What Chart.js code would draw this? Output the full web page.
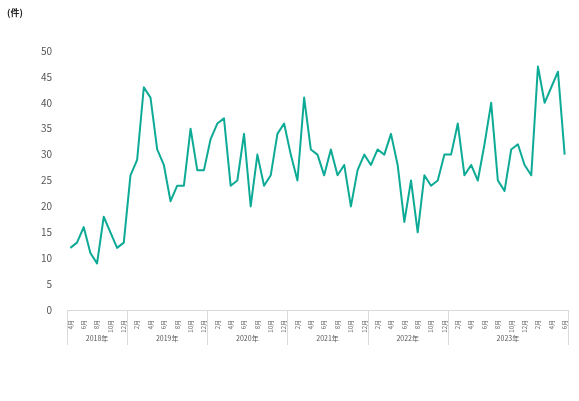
<!DOCTYPE html>
<html>
<head>
<meta charset="utf-8">
<script src="https://cdn.jsdelivr.net/npm/chart.js@4"></script>
<style>
  body { margin: 0; background: #fff; }
  #wrap { width: 579px; height: 401px; }
</style>
</head>
<body>
<div id="wrap"><canvas id="graph" width="579" height="401"></canvas></div>
<script>
//month labels, Apr 2018 - Jun 2024
var months = [
    '4月','5月','6月','7月','8月','9月','10月','11月','12月',
    '1月','2月','3月','4月','5月','6月','7月','8月','9月','10月','11月','12月',
    '1月','2月','3月','4月','5月','6月','7月','8月','9月','10月','11月','12月',
    '1月','2月','3月','4月','5月','6月','7月','8月','9月','10月','11月','12月',
    '1月','2月','3月','4月','5月','6月','7月','8月','9月','10月','11月','12月',
    '1月','2月','3月','4月','5月','6月','7月','8月','9月','10月','11月','12月',
    '1月','2月','3月','4月','5月','6月'
];

//counts per month (件)
var counts = [
    12, 13, 16, 11, 9, 18, 15, 12, 13,
    26, 29, 43, 41, 31, 28, 21, 24, 24, 35, 27, 27,
    33, 36, 37, 24, 25, 34, 20, 30, 24, 26, 34, 36,
    30, 25, 41, 31, 30, 26, 31, 26, 28, 20, 27, 30,
    28, 31, 30, 34, 28, 17, 25, 15, 26, 24, 25, 30,
    30, 36, 26, 28, 25, 32, 40, 25, 23, 31, 32, 28,
    26, 47, 40, 43, 46, 30
];

//year groups: label, first index, last index
var year_groups = [
    ['2018年', 0, 8],
    ['2019年', 9, 20],
    ['2020年', 21, 32],
    ['2021年', 33, 44],
    ['2022年', 45, 56],
    ['2023年', 57, 74]
];

var y_ticks = [0, 5, 10, 15, 20, 25, 30, 35, 40, 45, 50];

var font_family = "'Liberation Sans Narrow', 'Noto Sans CJK JP', sans-serif";

//draws unit label + year groups under the month ticks
var extras = {
    id: 'extras',
    afterDraw: function(chart) {
        var ctx = chart.ctx;
        var x = chart.scales.x;
        var bottom = chart.chartArea.bottom;
        var half = (x.getPixelForValue(1) - x.getPixelForValue(0)) / 2;

        ctx.save();
        ctx.fillStyle = '#222';
        ctx.font = "bold 9px 'Noto Sans CJK JP', sans-serif";
        ctx.textAlign = 'left';
        ctx.textBaseline = 'middle';
        ctx.fillText('(件)', 7, 13);

        ctx.strokeStyle = '#d9d9d9';
        ctx.lineWidth = 1;
        ctx.fillStyle = '#555';
        ctx.font = '7px ' + font_family;
        ctx.textAlign = 'center';
        for (var i = 0; i < year_groups.length; i++) {
            var g = year_groups[i];
            var left = x.getPixelForValue(g[1]) - half;
            var right = x.getPixelForValue(g[2]) + half;
            ctx.beginPath();
            ctx.moveTo(Math.round(left) + 0.5, bottom);
            ctx.lineTo(Math.round(left) + 0.5, bottom + 35);
            if (i == year_groups.length - 1) {
                ctx.moveTo(Math.round(right) + 0.5, bottom);
                ctx.lineTo(Math.round(right) + 0.5, bottom + 35);
            }
            ctx.stroke();
            ctx.fillText(g[0], (left + right) / 2, bottom + 28);
        }
        ctx.restore();
    }
};

new Chart(document.getElementById('graph'), {
    type: 'line',
    data: {
        labels: months,
        datasets: [{
            data: counts,
            borderColor: '#0DAA96',
            borderWidth: 2,
            borderJoinStyle: 'round',
            pointRadius: 0,
            tension: 0,
            fill: false
        }]
    },
    options: {
        responsive: false,
        animation: false,
        layout: { padding: { top: 51, right: 11, left: 0, bottom: 0 } },
        plugins: {
            legend: { display: false },
            tooltip: { enabled: false }
        },
        scales: {
            x: {
                offset: true,
                grid: { display: false },
                border: { display: true, color: '#d9d9d9', width: 1 },
                ticks: {
                    autoSkip: false,
                    minRotation: 90,
                    maxRotation: 90,
                    padding: 2,
                    color: '#666',
                    font: { size: 6, family: font_family },
                    callback: function(v) {
                        var l = this.getLabelForValue(v);
                        return parseInt(l) % 2 == 0 ? l : '';
                    }
                },
                afterFit: function(scale) { scale.height = 91; }
            },
            y: {
                min: 0,
                max: 50,
                grid: { display: false },
                border: { display: false },
                afterBuildTicks: function(scale) {
                    scale.ticks = y_ticks.map(function(v) { return { value: v }; });
                },
                ticks: {
                    padding: 7,
                    color: '#555',
                    font: { size: 10, family: font_family }
                },
                afterFit: function(scale) { scale.width = 67; }
            }
        }
    },
    plugins: [extras]
});
</script>
</body>
</html>
